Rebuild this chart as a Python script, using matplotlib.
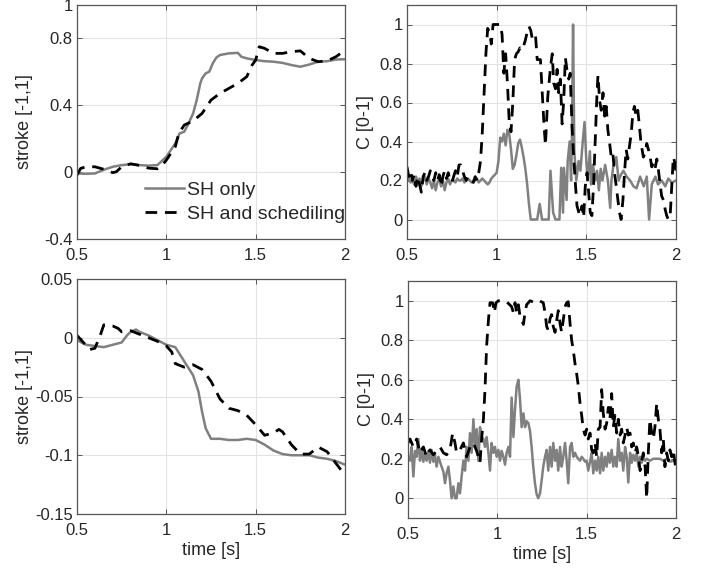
import matplotlib

matplotlib.use("Agg")
import matplotlib.pyplot as plt

plt.rcParams["font.family"] = ["Liberation Sans", "DejaVu Sans"]

GRAY = "#808080"
INK = "#262626"

# ---- top-left: stroke, first case ----
tl_t_sh = [0.5, 0.55, 0.6, 0.65, 0.7, 0.75, 0.8, 0.85, 0.9, 0.95, 1.0, 1.05, 1.074, 1.1,
           1.12, 1.15, 1.17, 1.19, 1.2, 1.22, 1.24, 1.26, 1.28, 1.3, 1.35, 1.4, 1.42, 1.45,
           1.5, 1.55, 1.6, 1.65, 1.7, 1.75, 1.8, 1.85, 1.9, 1.95, 2.0]
tl_sh = [-0.01, -0.012, -0.01, 0.012, 0.03, 0.04, 0.045, 0.04, 0.037, 0.04, 0.09, 0.17, 0.23,
         0.24, 0.28, 0.35, 0.43, 0.53, 0.56, 0.59, 0.60, 0.65, 0.685, 0.70, 0.71, 0.713, 0.69,
         0.68, 0.67, 0.663, 0.66, 0.653, 0.64, 0.63, 0.643, 0.66, 0.663, 0.673, 0.675]
tl_t_sched = [0.5, 0.52, 0.55, 0.6, 0.65, 0.7, 0.72, 0.75, 0.8, 0.85, 0.9, 0.95, 0.97, 1.0,
              1.05, 1.07, 1.1, 1.15, 1.2, 1.25, 1.3, 1.35, 1.4, 1.45, 1.48, 1.5, 1.52, 1.55,
              1.6, 1.65, 1.7, 1.75, 1.8, 1.85, 1.9, 1.95, 2.0]
tl_sched = [-0.02, 0.02, 0.03, 0.03, 0.015, -0.005, 0.0, 0.03, 0.048, 0.038, 0.022, 0.018,
            0.03, 0.07, 0.15, 0.23, 0.28, 0.305, 0.35, 0.43, 0.47, 0.50, 0.53, 0.57, 0.64,
            0.67, 0.75, 0.74, 0.71, 0.71, 0.72, 0.725, 0.68, 0.66, 0.665, 0.69, 0.73]

# ---- top-right: C, first case ----
tr_t_sh = [0.5, 0.51, 0.52, 0.53, 0.54, 0.55, 0.56, 0.57, 0.58, 0.59, 0.6, 0.61, 0.62, 0.63,
           0.64, 0.65, 0.66, 0.67, 0.68, 0.69, 0.7, 0.71, 0.72, 0.73, 0.74, 0.75, 0.76, 0.77,
           0.78, 0.79, 0.8, 0.81, 0.82, 0.83, 0.84, 0.85, 0.86, 0.87, 0.88, 0.89, 0.9, 0.91,
           0.92, 0.93, 0.94, 0.95, 0.96, 0.97, 0.98, 0.99, 1.0, 1.01, 1.02, 1.03, 1.04, 1.05,
           1.06, 1.07, 1.08, 1.09, 1.1, 1.11, 1.12, 1.13, 1.14, 1.15, 1.16, 1.17, 1.18, 1.19,
           1.226, 1.24, 1.253, 1.29, 1.30, 1.315, 1.328, 1.35, 1.36, 1.37, 1.375, 1.39, 1.396,
           1.407, 1.415, 1.42, 1.426, 1.433, 1.444, 1.457, 1.467, 1.48, 1.49, 1.5, 1.507, 1.52,
           1.526, 1.537, 1.55, 1.56, 1.57, 1.58, 1.59, 1.605, 1.62, 1.633, 1.64, 1.65, 1.667,
           1.68, 1.693, 1.707, 1.725, 1.744, 1.763, 1.78, 1.8, 1.82, 1.837, 1.85, 1.865, 1.885,
           1.9, 1.92, 1.94, 1.957, 1.976, 2.0]
tr_sh = [0.20, 0.21, 0.19, 0.20, 0.18, 0.22, 0.19, 0.21, 0.17, 0.20, 0.22, 0.18, 0.21, 0.19,
         0.16, 0.20, 0.15, 0.19, 0.21, 0.17, 0.20, 0.15, 0.19, 0.21, 0.18, 0.20, 0.20, 0.19,
         0.21, 0.20, 0.20, 0.21, 0.19, 0.20, 0.21, 0.20, 0.19, 0.20, 0.20, 0.21, 0.19, 0.20,
         0.21, 0.20, 0.19, 0.18, 0.19, 0.21, 0.22, 0.23, 0.24, 0.30, 0.42, 0.40, 0.44, 0.38,
         0.46, 0.44, 0.36, 0.26, 0.28, 0.33, 0.39, 0.41, 0.37, 0.32, 0.26, 0.18, 0.08, 0.0,
         0.0, 0.08, 0.0, 0.0, 0.25, 0.035, 0.0, 0.0, 0.265, 0.035, 0.265, 0.1, 0.3, 0.4, 0.2,
         0.45, 1.0, 0.35, 0.2, 0.3, 0.25, 0.4, 0.5, 0.3, 0.2, 0.35, 0.18, 0.28, 0.2, 0.25,
         0.15, 0.26, 0.2, 0.28, 0.2, 0.06, 0.2, 0.27, 0.32, 0.2, 0.23, 0.25, 0.22, 0.2, 0.17,
         0.16, 0.22, 0.17, 0.22, 0.0, 0.18, 0.22, 0.18, 0.2, 0.17, 0.21, 0.19, 0.2]
tr_t_sched = [0.5, 0.51, 0.52, 0.53, 0.54, 0.55, 0.56, 0.57, 0.58, 0.59, 0.6, 0.61, 0.62,
              0.63, 0.64, 0.65, 0.66, 0.67, 0.68, 0.69, 0.7, 0.71, 0.72, 0.73, 0.74, 0.75,
              0.76, 0.77, 0.78, 0.79, 0.8, 0.81, 0.82, 0.83, 0.84, 0.85, 0.86, 0.87, 0.88,
              0.89, 0.9, 0.91, 0.92, 0.93, 0.94, 0.95, 0.96, 0.97, 0.98, 0.99, 1.0, 1.01, 1.02,
              1.03, 1.04, 1.05, 1.06, 1.07, 1.08, 1.09, 1.1, 1.11, 1.12, 1.13, 1.14, 1.15, 1.16,
              1.17, 1.18, 1.19, 1.2, 1.217, 1.226, 1.244, 1.263, 1.272, 1.285, 1.3, 1.31, 1.318,
              1.328, 1.337, 1.346, 1.355, 1.365, 1.374, 1.383, 1.393, 1.402, 1.41, 1.42, 1.43,
              1.44, 1.448, 1.463, 1.476, 1.485, 1.494, 1.504, 1.513, 1.522, 1.531, 1.54, 1.55,
              1.56, 1.565, 1.574, 1.583, 1.593, 1.602, 1.611, 1.62, 1.63, 1.639, 1.648, 1.657,
              1.667, 1.676, 1.685, 1.694, 1.704, 1.713, 1.722, 1.731, 1.74, 1.75, 1.76, 1.768,
              1.778, 1.787, 1.796, 1.805, 1.818, 1.828, 1.837, 1.846, 1.856, 1.865, 1.874,
              1.883, 1.893, 1.9, 1.91, 1.92, 1.93, 1.94, 1.948, 1.957, 1.967, 1.976, 1.985,
              1.994, 2.0]
tr_sched = [0.27, 0.22, 0.25, 0.20, 0.23, 0.17, 0.22, 0.18, 0.14, 0.22, 0.24, 0.20, 0.22,
            0.25, 0.22, 0.20, 0.24, 0.20, 0.23, 0.17, 0.22, 0.25, 0.21, 0.24, 0.20, 0.19, 0.22,
            0.25, 0.22, 0.28, 0.28, 0.25, 0.22, 0.20, 0.22, 0.21, 0.20, 0.19, 0.22, 0.20, 0.24,
            0.30, 0.45, 0.65, 0.85, 0.98, 0.96, 0.90, 1.0, 1.0, 1.0, 1.0, 1.0, 0.95, 0.75,
            0.85, 0.70, 0.50, 0.45, 0.60, 0.82, 0.85, 0.86, 0.88, 0.87, 0.89, 0.92, 0.96, 0.99,
            0.97, 0.92, 0.94, 0.82, 0.82, 0.50, 0.38, 0.63, 0.78, 0.85, 0.70, 0.67, 0.77, 0.65,
            0.72, 0.49, 0.61, 0.83, 0.76, 0.72, 0.75, 0.48, 0.31, 0.17, 0.07, 0.02, 0.07, 0.01,
            0.17, 0.24, 0.14, 0.035, 0.02, 0.17, 0.41, 0.66, 0.74, 0.61, 0.56, 0.65, 0.53, 0.58,
            0.46, 0.39, 0.32, 0.34, 0.24, 0.17, 0.10, 0.035, 0.0, 0.10, 0.24, 0.36, 0.31, 0.37,
            0.44, 0.55, 0.58, 0.53, 0.56, 0.48, 0.39, 0.32, 0.34, 0.39, 0.36, 0.32, 0.27, 0.29,
            0.26, 0.31, 0.27, 0.19, 0.12, 0.10, 0.05, 0.02, 0.0, 0.01, 0.17, 0.32, 0.29, 0.24]

# ---- bottom-left: stroke, second case ----
bl_t_sh = [0.5, 0.55, 0.6, 0.65, 0.7, 0.75, 0.78, 0.8, 0.83, 0.85, 0.9, 0.95, 1.0, 1.05,
           1.1, 1.15, 1.18, 1.2, 1.22, 1.25, 1.3, 1.35, 1.4, 1.45, 1.5, 1.55, 1.6, 1.65, 1.7,
           1.75, 1.8, 1.85, 1.9, 1.95, 2.0]
bl_sh = [-0.002, -0.006, -0.007, -0.008, -0.006, -0.004, 0.002, 0.005, 0.007, 0.005, 0.002,
         -0.002, -0.006, -0.008, -0.02, -0.032, -0.046, -0.063, -0.077, -0.086, -0.086,
         -0.087, -0.087, -0.086, -0.087, -0.091, -0.096, -0.099, -0.1, -0.1, -0.1, -0.102,
         -0.103, -0.105, -0.108]
bl_t_sched = [0.5, 0.53, 0.57, 0.6, 0.63, 0.65, 0.7, 0.73, 0.75, 0.8, 0.85, 0.9, 0.95, 1.0,
              1.03, 1.05, 1.1, 1.15, 1.2, 1.25, 1.3, 1.35, 1.4, 1.45, 1.5, 1.55, 1.6, 1.63,
              1.65, 1.7, 1.75, 1.8, 1.85, 1.9, 1.95, 2.0]
bl_sched = [0.002, -0.003, -0.01, -0.009, 0.002, 0.011, 0.01, 0.008, 0.005, 0.006, 0.003,
            0.0, -0.003, -0.007, -0.012, -0.022, -0.025, -0.023, -0.027, -0.037, -0.052,
            -0.06, -0.062, -0.066, -0.074, -0.083, -0.081, -0.078, -0.08, -0.091, -0.099,
            -0.099, -0.093, -0.097, -0.107, -0.117]

# ---- bottom-right: C, second case ----
br_t_sh = [0.5, 0.511, 0.52, 0.53, 0.539, 0.548, 0.558, 0.567, 0.576, 0.586, 0.595, 0.604,
           0.614, 0.623, 0.632, 0.642, 0.651, 0.66, 0.67, 0.679, 0.688, 0.698, 0.707, 0.716,
           0.726, 0.735, 0.744, 0.754, 0.763, 0.772, 0.782, 0.791, 0.8, 0.81, 0.819, 0.828,
           0.838, 0.847, 0.856, 0.866, 0.875, 0.884, 0.894, 0.903, 0.912, 0.922, 0.931, 0.94,
           0.95, 0.959, 0.968, 0.978, 0.987, 0.996, 1.006, 1.015, 1.024, 1.034, 1.043, 1.052,
           1.062, 1.071, 1.08, 1.09, 1.099, 1.108, 1.118, 1.127, 1.136, 1.146, 1.155, 1.164,
           1.174, 1.183, 1.192, 1.2, 1.21, 1.22, 1.229, 1.239, 1.248, 1.257, 1.267, 1.276,
           1.285, 1.295, 1.304, 1.313, 1.323, 1.332, 1.341, 1.351, 1.36, 1.369, 1.379, 1.388,
           1.397, 1.407, 1.416, 1.425, 1.435, 1.444, 1.453, 1.463, 1.472, 1.481, 1.491, 1.5,
           1.509, 1.519, 1.528, 1.537, 1.547, 1.556, 1.565, 1.575, 1.584, 1.593, 1.603, 1.612,
           1.621, 1.63, 1.64, 1.649, 1.658, 1.668, 1.677, 1.687, 1.696, 1.705, 1.715, 1.724,
           1.733, 1.743, 1.752, 1.761, 1.771, 1.78, 1.79, 1.799, 1.808, 1.817, 1.827, 1.836,
           1.854, 1.873, 1.892, 1.91, 1.929, 1.948, 1.966, 1.985, 2.0]
br_sh = [0.21, 0.19, 0.26, 0.11, 0.24, 0.21, 0.30, 0.19, 0.25, 0.185, 0.23, 0.19, 0.24,
         0.18, 0.245, 0.185, 0.22, 0.16, 0.21, 0.185, 0.16, 0.135, 0.076, 0.126, 0.16, 0.09,
         0.0, 0.06, 0.0, 0.0, 0.076, 0.025, 0.11, 0.19, 0.14, 0.26, 0.19, 0.33, 0.23, 0.40,
         0.26, 0.35, 0.19, 0.36, 0.31, 0.30, 0.26, 0.31, 0.23, 0.14, 0.28, 0.23, 0.26, 0.21,
         0.245, 0.19, 0.24, 0.21, 0.17, 0.23, 0.26, 0.21, 0.51, 0.31, 0.45, 0.565, 0.60, 0.50,
         0.36, 0.43, 0.36, 0.39, 0.38, 0.34, 0.26, 0.17, 0.08, 0.02, 0.0, 0.025, 0.09, 0.16,
         0.21, 0.245, 0.14, 0.26, 0.16, 0.28, 0.19, 0.245, 0.14, 0.26, 0.16, 0.21, 0.28, 0.19,
         0.076, 0.26, 0.28, 0.21, 0.23, 0.21, 0.2, 0.19, 0.21, 0.2, 0.185, 0.19, 0.14, 0.185,
         0.23, 0.126, 0.19, 0.14, 0.21, 0.126, 0.23, 0.14, 0.21, 0.16, 0.23, 0.18, 0.245, 0.16,
         0.21, 0.16, 0.30, 0.19, 0.23, 0.14, 0.26, 0.21, 0.08, 0.23, 0.18, 0.22, 0.19, 0.23,
         0.16, 0.21, 0.18, 0.21, 0.19, 0.2, 0.19, 0.2, 0.2, 0.2, 0.19, 0.2, 0.185, 0.19, 0.185]
br_t_sched = [0.5, 0.511, 0.53, 0.548, 0.567, 0.586, 0.604, 0.623, 0.642, 0.66, 0.679, 0.698,
              0.716, 0.735, 0.75, 0.763, 0.772, 0.791, 0.81, 0.819, 0.828, 0.847, 0.866, 0.884,
              0.903, 0.912, 0.922, 0.931, 0.94, 0.95, 0.959, 0.974, 0.983, 0.993, 1.006, 1.034,
              1.052, 1.08, 1.09, 1.099, 1.108, 1.118, 1.127, 1.136, 1.146, 1.155, 1.164, 1.183,
              1.21, 1.235, 1.257, 1.267, 1.276, 1.285, 1.295, 1.304, 1.313, 1.323, 1.332, 1.341,
              1.351, 1.36, 1.369, 1.379, 1.388, 1.397, 1.407, 1.416, 1.425, 1.435, 1.444, 1.453,
              1.463, 1.472, 1.481, 1.491, 1.5, 1.509, 1.519, 1.528, 1.537, 1.547, 1.556, 1.565,
              1.575, 1.584, 1.593, 1.603, 1.612, 1.621, 1.63, 1.64, 1.649, 1.658, 1.668, 1.677,
              1.687, 1.696, 1.705, 1.715, 1.724, 1.733, 1.743, 1.752, 1.761, 1.771, 1.78, 1.79,
              1.799, 1.808, 1.817, 1.827, 1.836, 1.845, 1.854, 1.864, 1.873, 1.882, 1.892, 1.901,
              1.91, 1.92, 1.929, 1.938, 1.948, 1.957, 1.966, 1.976, 1.985, 2.0]
br_sched = [0.28, 0.30, 0.26, 0.30, 0.23, 0.26, 0.21, 0.245, 0.22, 0.24, 0.26, 0.23, 0.22,
            0.245, 0.33, 0.28, 0.23, 0.245, 0.28, 0.245, 0.21, 0.26, 0.28, 0.24, 0.18, 0.30,
            0.40, 0.55, 0.77, 0.90, 0.99, 0.99, 0.94, 0.99, 1.0, 1.0, 0.995, 0.97, 0.94, 0.99,
            0.94, 0.98, 0.92, 0.90, 0.88, 0.94, 0.98, 1.0, 0.99, 1.0, 0.99, 0.94, 0.87, 0.85,
            0.91, 0.93, 0.87, 0.84, 0.90, 0.95, 0.885, 0.84, 0.90, 0.97, 0.99, 0.995, 0.885,
            0.80, 0.75, 0.68, 0.63, 0.57, 0.48, 0.42, 0.35, 0.32, 0.35, 0.30, 0.33, 0.245, 0.23,
            0.28, 0.21, 0.35, 0.36, 0.55, 0.43, 0.35, 0.38, 0.46, 0.40, 0.53, 0.36, 0.42, 0.33,
            0.40, 0.32, 0.35, 0.28, 0.32, 0.36, 0.32, 0.33, 0.26, 0.28, 0.23, 0.26, 0.21, 0.14,
            0.19, 0.23, 0.16, 0.0, 0.23, 0.40, 0.33, 0.30, 0.36, 0.48, 0.40, 0.35, 0.23, 0.30,
            0.16, 0.23, 0.19, 0.245, 0.21, 0.245, 0.14]

X_TICKS = [0.5, 1, 1.5, 2]
X_LABELS = ["0.5", "1", "1.5", "2"]
STROKE1_TICKS = [-0.4, 0, 0.4, 0.8, 1]
STROKE1_LABELS = ["-0.4", "0", "0.4", "0.8", "1"]
STROKE2_TICKS = [-0.15, -0.1, -0.05, 0, 0.05]
STROKE2_LABELS = ["-0.15", "-0.1", "-0.05", "0", "0.05"]
C_TICKS = [0, 0.2, 0.4, 0.6, 0.8, 1]
C_LABELS = ["0", "0.2", "0.4", "0.6", "0.8", "1"]

DASH = (0, (4.2, 2.8))
GRAY_LW = 1.8
DASH_LW = 2.0


def style_axes(ax, yticks, ylabels, ylim, ylabel, ylabel_x, xlabel=None):
    ax.set_xlim(0.5, 2)
    ax.set_ylim(*ylim)
    ax.set_xticks(X_TICKS)
    ax.set_xticklabels(X_LABELS)
    ax.set_yticks(yticks)
    ax.set_yticklabels(ylabels)
    ax.grid(True, color="#e3e3e3", linewidth=0.8)
    ax.set_axisbelow(True)
    for s in ax.spines.values():
        s.set_color("#555555")
        s.set_linewidth(0.9)
    ax.tick_params(direction="in", top=True, right=True, length=3.5, width=0.7,
                   colors="#555555", labelcolor=INK, labelsize=12)
    ax.tick_params(axis="x", pad=6.5)
    ax.tick_params(axis="y", pad=3)
    ax.set_ylabel(ylabel, fontsize=13, color=INK)
    ax.yaxis.set_label_coords(ylabel_x, 0.5)
    if xlabel:
        ax.set_xlabel(xlabel, fontsize=13, color=INK, labelpad=3)


fig = plt.figure(figsize=(7.02, 5.70), dpi=100)
fig.patch.set_facecolor("white")

ax_tl = fig.add_axes([77 / 702, 1 - 238.5 / 570, 268 / 702, 233.5 / 570])
ax_tr = fig.add_axes([407 / 702, 1 - 239 / 570, 269 / 702, 234 / 570])
ax_bl = fig.add_axes([77 / 702, 1 - 514 / 570, 268 / 702, 235 / 570])
ax_br = fig.add_axes([408 / 702, 1 - 518 / 570, 268 / 702, 237 / 570])

ax_tl.plot(tl_t_sh, tl_sh, color=GRAY, lw=GRAY_LW, label="SH only")
ax_tl.plot(tl_t_sched, tl_sched, color="black", lw=DASH_LW, linestyle=DASH,
           label="SH and schediling")
style_axes(ax_tl, STROKE1_TICKS, STROKE1_LABELS, (-0.4, 1), "stroke [-1,1]", -0.165)
leg = ax_tl.legend(loc="lower right", bbox_to_anchor=(1.0, 0.068), frameon=False,
                   fontsize=14, handlelength=2.0, handletextpad=0.15, labelspacing=0.3,
                   borderaxespad=0, borderpad=0)
for t in leg.get_texts():
    t.set_color(INK)

ax_tr.plot(tr_t_sh, tr_sh, color=GRAY, lw=GRAY_LW)
ax_tr.plot(tr_t_sched, tr_sched, color="black", lw=DASH_LW, linestyle=DASH)
style_axes(ax_tr, C_TICKS, C_LABELS, (-0.1, 1.1), "C [0-1]", -0.123)

ax_bl.plot(bl_t_sh, bl_sh, color=GRAY, lw=GRAY_LW)
ax_bl.plot(bl_t_sched, bl_sched, color="black", lw=DASH_LW, linestyle=DASH)
style_axes(ax_bl, STROKE2_TICKS, STROKE2_LABELS, (-0.15, 0.05), "stroke [-1,1]", -0.165,
           xlabel="time [s]")

ax_br.plot(br_t_sh, br_sh, color=GRAY, lw=GRAY_LW)
ax_br.plot(br_t_sched, br_sched, color="black", lw=DASH_LW, linestyle=DASH)
style_axes(ax_br, C_TICKS, C_LABELS, (-0.1, 1.1), "C [0-1]", -0.123, xlabel="time [s]")

fig.savefig("out.png", dpi=100)
